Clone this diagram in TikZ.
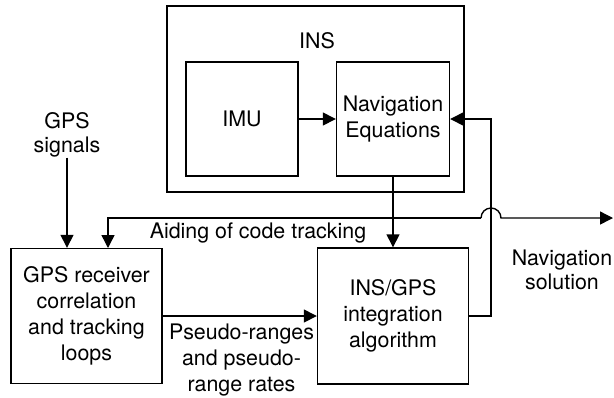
\documentclass[tikz,border=0pt]{standalone}
\usepackage{fontspec}
\setmainfont{TeX Gyre Heros}
\usetikzlibrary{arrows.meta}
\begin{document}
\begin{tikzpicture}[x=0.5pt,y=-0.5pt,
  box/.style={draw,line width=0.7pt,inner sep=0pt,align=center},
  txt/.style={inner sep=0pt,align=center},
  conn/.style={line width=0.7pt},
  arr/.style={conn,-{Triangle[length=6.5pt,width=6.5pt]}},
  every node/.style={font=\fontsize{10.7}{13}\selectfont}]
\useasboundingbox (0,0) rectangle (614,397);
\node[box,minimum width=148.5pt,minimum height=93pt] (ins) at (315.5,99) {};
\node[txt] (inslbl) at (317,41) {INS};
\node[box,minimum width=56pt,minimum height=57pt] (imu) at (242,119) {IMU};
\node[box,minimum width=56.5pt,minimum height=57pt] (nav) at (393,119) {Navigation\\Equations};
\node[box,minimum width=75.5pt,minimum height=67.5pt] (gps) at (86.5,316) {GPS receiver\\correlation\\and tracking\\loops};
\node[box,minimum width=75.5pt,minimum height=68pt] (ig) at (393,316) {INS/GPS\\integration\\algorithm};
\node[txt,font=\fontsize{10.7}{12}\selectfont] (sig) at (67,135) {GPS\\signals};
\node[txt] (aid) at (258,233) {Aiding of code tracking};
\node[txt] (pr) at (241.5,360) {Pseudo-ranges\\and pseudo-\\range rates};
\node[txt,font=\fontsize{10.7}{12}\selectfont] (sol) at (562,270) {Navigation\\solution};
\coordinate (aidin) at (108,248);
\coordinate (out) at (613,218);
\coordinate (fb) at (491,316);
\coordinate (hopl) at (481,218);
\draw[arr] (imu.east) -- (nav.west);
\draw[arr] (nav.south) -- (ig.north);
\draw[arr] (sig.south) -- (sig.south |- gps.north);
\draw[arr] (gps.east) -- (ig.west);
\draw[arr] (ig.east) -- (fb) -- (fb |- nav.east) -- (nav.east);
\draw[arr] (hopl) -- (aidin |- hopl) -- (aidin);
\draw[arr] (hopl) arc[start angle=180,end angle=0,radius=5pt] -- (out);
\end{tikzpicture}
\end{document}
